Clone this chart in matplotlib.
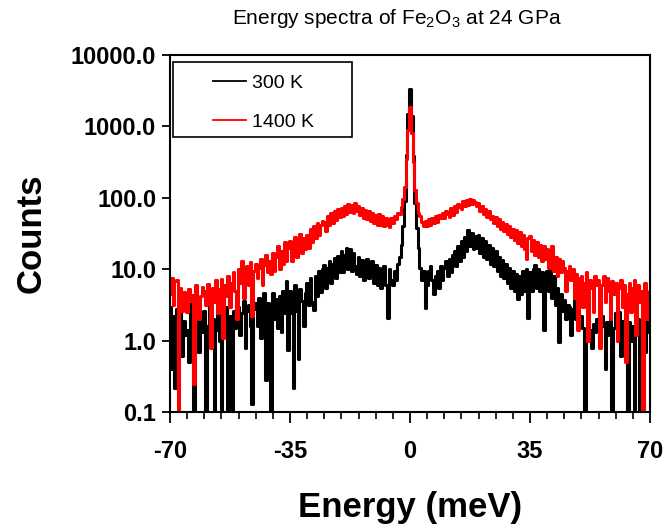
import numpy as np
import matplotlib
matplotlib.use('Agg')
import matplotlib.pyplot as plt
from matplotlib.patches import Rectangle
from matplotlib.ticker import MultipleLocator, FixedLocator, FixedFormatter

plt.rcParams['font.family'] = ['Liberation Sans', 'DejaVu Sans']
plt.rcParams['axes.unicode_minus'] = False

# Energy grid (meV), 0.5 meV steps from -70 to 70
energy = np.linspace(-70, 70, 281)

# 1400 K spectrum
counts_1400 = [
    4.5, 7.5, 3.2, 6.8, 7.0, 0.1, 5.5, 2.6, 4.8, 3.0,
    2.5, 5.2, 3.6, 4.4, 0.25, 6.0, 3.8, 2.0, 4.2, 5.6,
    5.0, 3.2, 6.2, 4.0, 0.8, 5.5, 3.5, 7.0, 2.4, 5.2,
    7.2, 1.1, 6.0, 4.2, 8.0, 3.0, 6.5, 9.0, 5.0, 2.0,
    10.0, 6.5, 13.0, 4.0, 8.5, 11.0, 6.0, 12.5, 2.2, 9.5,
    12.0, 7.5, 10.5, 14.0, 6.0, 11.5, 16.0, 9.0, 13.0, 8.5,
    17.0, 9.5, 15.0, 21.0, 10.0, 18.0, 12.0, 24.0, 13.0, 20.0,
    25.0, 13.0, 22.0, 28.0, 15.0, 24.0, 31.0, 17.0, 27.0, 19.0,
    30.0, 20.0, 36.0, 24.0, 40.0, 27.0, 44.0, 30.0, 41.0, 47.0,
    46.0, 34.0, 55.0, 41.0, 62.0, 45.0, 66.0, 49.0, 70.0, 54.0,
    72.0, 56.0, 78.0, 60.0, 82.0, 64.0, 80.0, 61.0, 84.0, 66.0,
    76.0, 58.0, 72.0, 52.0, 68.0, 50.0, 65.0, 47.0, 62.0, 45.0,
    58.0, 42.0, 60.0, 41.0, 55.0, 40.0, 53.0, 42.0, 39.0, 52.0,
    44.0, 55.0, 50.0, 62.0, 60.0, 75.0, 95.0, 140.0, 350.0, 900.0,
    1850.0, 800.0, 320.0, 130.0, 85.0, 62.0, 55.0, 46.0, 40.0, 48.0,
    40.0, 50.0, 42.0, 52.0, 44.0, 55.0, 46.0, 57.0, 52.0, 62.0,
    52.0, 66.0, 60.0, 54.0, 72.0, 58.0, 78.0, 64.0, 82.0, 74.0,
    70.0, 90.0, 76.0, 94.0, 80.0, 96.0, 82.0, 92.0, 86.0, 78.0,
    84.0, 66.0, 78.0, 60.0, 70.0, 54.0, 66.0, 50.0, 56.0, 44.0,
    54.0, 40.0, 50.0, 36.0, 46.0, 34.0, 43.0, 31.0, 40.0, 28.0,
    36.0, 26.0, 35.0, 23.0, 33.0, 21.0, 30.0, 19.0, 14.0, 27.0,
    29.0, 18.0, 26.0, 16.0, 24.0, 15.0, 22.0, 13.0, 21.0, 14.0,
    19.0, 10.5, 16.0, 21.0, 9.5, 15.0, 8.0, 14.0, 9.0, 13.0,
    10.5, 5.0, 9.5, 11.0, 7.0, 10.0, 4.0, 8.5, 1.4, 7.5,
    8.0, 3.0, 6.5, 9.0, 1.0, 7.0, 5.5, 2.5, 8.0, 6.0,
    7.0, 0.8, 6.0, 8.0, 3.5, 7.5, 5.0, 2.0, 6.8, 4.5,
    6.5, 1.0, 5.5, 7.0, 3.0, 6.0, 0.5, 4.5, 6.5, 2.5,
    5.5, 7.0, 1.2, 6.0, 3.5, 5.0, 0.1, 6.5, 2.0, 4.0,
    5.0,
]

# 300 K spectrum
counts_300 = [
    3.0, 0.4, 2.2, 0.22, 2.8, 1.5, 2.5, 0.6, 1.9, 1.2,
    1.4, 0.5, 2.4, 3.4, 0.1, 1.8, 3.0, 0.7, 2.2, 1.3,
    2.6, 0.1, 1.6, 3.2, 0.9, 2.0, 0.1, 1.4, 2.6, 1.0,
    0.1, 2.8, 1.3, 3.0, 0.1, 2.2, 0.1, 2.6, 1.5, 3.2,
    3.0, 1.2, 2.4, 3.6, 0.8, 2.6, 3.2, 1.6, 0.13, 2.8,
    3.4, 1.6, 4.0, 1.1, 3.0, 4.6, 0.28, 3.4, 1.8, 0.1,
    4.6, 2.0, 3.8, 1.5, 4.2, 1.3, 5.0, 2.4, 6.8, 0.75,
    5.0, 2.4, 0.22, 6.0, 2.6, 0.55, 5.2, 3.6, 1.6, 4.6,
    6.5, 3.2, 7.5, 3.5, 2.7, 8.0, 4.2, 9.5, 4.8, 10.0,
    11.5, 5.5, 10.5, 13.0, 6.5, 12.0, 14.5, 7.5, 15.5, 9.0,
    18.0, 9.0, 16.0, 20.0, 10.0, 19.0, 9.5, 17.0, 11.0, 8.5,
    15.0, 8.0, 13.5, 7.0, 12.0, 14.0, 7.5, 12.5, 13.0, 6.5,
    11.5, 6.0, 10.5, 5.5, 9.0, 11.0, 6.0, 2.1, 10.0, 7.0,
    6.0, 9.5, 7.0, 12.0, 15.0, 22.0, 40.0, 90.0, 400.0, 1500.0,
    3300.0, 1400.0, 380.0, 85.0, 38.0, 20.0, 10.5, 7.0, 9.5, 2.9,
    6.0, 9.5, 11.0, 7.0, 4.5, 8.0, 9.5, 5.5, 11.0, 7.0,
    10.5, 13.0, 8.0, 14.0, 9.0, 16.0, 18.0, 11.0, 21.0, 13.0,
    25.0, 15.0, 28.0, 18.0, 35.0, 21.0, 32.0, 19.0, 29.0, 20.0,
    30.0, 17.0, 27.0, 15.0, 25.0, 14.0, 22.0, 12.0, 20.0, 11.0,
    18.0, 9.5, 15.0, 8.0, 13.5, 7.5, 12.0, 6.5, 10.5, 5.5,
    9.5, 5.0, 8.5, 3.8, 8.0, 4.5, 9.5, 5.0, 10.0, 2.1,
    9.0, 5.0, 10.0, 11.5, 5.5, 10.0, 5.0, 9.0, 1.4, 8.0,
    9.5, 5.0, 10.0, 4.0, 8.0, 3.2, 5.5, 0.95, 4.5, 2.6,
    3.7, 2.0, 3.2, 3.0, 1.2, 2.8, 3.7, 2.0, 3.2, 1.6,
    2.2, 1.5, 0.1, 1.2, 2.0, 1.4, 0.8, 1.7, 1.3, 2.0,
    1.9, 1.0, 2.2, 1.6, 0.4, 1.8, 1.2, 2.0, 0.1, 1.5,
    2.4, 1.2, 2.5, 0.6, 1.9, 1.4, 2.2, 0.1, 1.8, 1.0,
    1.6, 0.1, 1.4, 2.0, 0.1, 1.2, 1.8, 0.7, 1.8, 1.3,
    1.9,
]

y_ticks = [0.1, 1, 10, 100, 1000, 10000]
y_tick_labels = ['0.1', '1.0', '10.0', '100.0', '1000.0', '10000.0']
x_ticks = [-70, -35, 0, 35, 70]

fig = plt.figure(figsize=(6.66, 5.27), dpi=100)
ax = fig.add_axes([0.2553, 0.2182, 0.7207, 0.6774])

ax.plot(energy, counts_300, color='black', lw=2.2, drawstyle='steps-mid', label='300 K')
ax.plot(energy, counts_1400, color='#ff0000', lw=2.2, drawstyle='steps-mid', label='1400 K')

ax.set_yscale('log')
ax.set_ylim(0.1, 10000)
ax.set_xlim(-70, 70)
ax.yaxis.set_major_locator(FixedLocator(y_ticks))
ax.yaxis.set_major_formatter(FixedFormatter(y_tick_labels))
ax.yaxis.set_minor_locator(FixedLocator([]))
ax.set_xticks(x_ticks)
ax.xaxis.set_minor_locator(MultipleLocator(5))

for s in ax.spines.values():
    s.set_linewidth(1.5)
ax.tick_params(axis='both', which='major', direction='out', width=1.3, labelsize=17, top=False, right=False)
ax.tick_params(axis='x', which='major', length=8, pad=12)
ax.tick_params(axis='y', which='major', length=6, pad=4)
ax.tick_params(axis='x', which='minor', direction='out', length=5, width=1.2)
for lab in ax.get_xticklabels() + ax.get_yticklabels():
    lab.set_fontweight('bold')

ax.set_xlabel('Energy (meV)', fontsize=25, fontweight='bold', labelpad=20)
ax.set_ylabel('Counts', fontsize=25, fontweight='bold', labelpad=17)
fig.text(0.596, 0.964, r'Energy spectra of Fe$_\mathregular{2}$O$_\mathregular{3}$ at 24 GPa',
         fontsize=15, ha='center', va='center')

# legend with a plain rectangular box
leg = ax.legend(loc='upper left', bbox_to_anchor=(213 / 666, 1 - 74 / 527),
                bbox_transform=fig.transFigure, frameon=False, fontsize=14,
                borderpad=0, borderaxespad=0, handlelength=1.7, handletextpad=0.3,
                labelspacing=1.1)
for h in leg.get_lines():
    h.set_linewidth(1.3)
fig.patches.append(Rectangle((173 / 666, 1 - 137 / 527), 179 / 666, 75 / 527,
                             transform=fig.transFigure, fill=False,
                             edgecolor='black', lw=1.2))

fig.savefig('out.png', dpi=100)
